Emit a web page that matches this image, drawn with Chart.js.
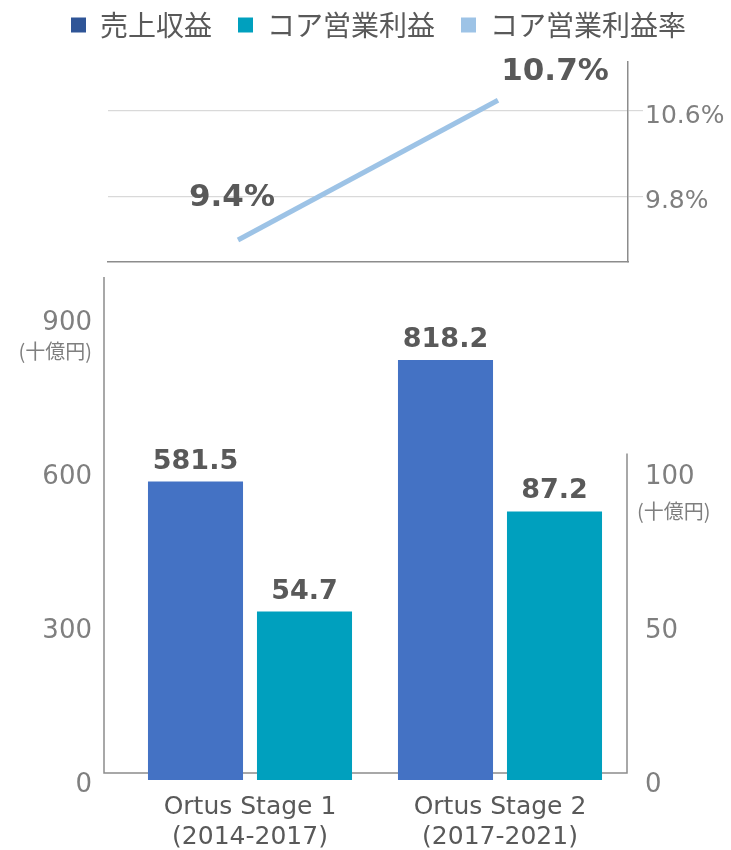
<!DOCTYPE html>
<html>
<head>
<meta charset="utf-8">
<script src="https://cdn.jsdelivr.net/npm/chart.js@4.4.1/dist/chart.umd.min.js"></script>
<style>
  html, body { margin: 0; padding: 0; background: #ffffff; }
  #wrap { position: relative; width: 731px; height: 850px; overflow: hidden; }
  #top { position: absolute; left: 0; top: 0; }
  #bottom { position: absolute; left: 0; top: 268px; }
</style>
</head>
<body>
<div id="wrap">
  <canvas id="top" width="731" height="268"></canvas>
  <canvas id="bottom" width="731" height="582"></canvas>
</div>
<script>
// ---- data ----
const categories = [['Ortus Stage 1', '(2014-2017)'], ['Ortus Stage 2', '(2017-2021)']];
const revenue = [581.5, 818.2];          // 売上収益 (十億円)
const coreProfit = [54.7, 87.2];         // コア営業利益 (十億円)
const coreMargin = [9.4, 10.7];          // コア営業利益率 (%)
const revenueTicks = [0, 300, 600, 900];
const profitTicks = [0, 50, 100];
const marginTicks = [9.8, 10.6];
const seriesNames = ['売上収益', 'コア営業利益', 'コア営業利益率'];
const unitLabel = '(十億円)';

// ---- styles ----
const colRevenue = '#4472C4';
const colRevenueLegend = '#2F5597';
const colProfit = '#00A0BE';
const colMargin = '#9DC3E6';
const axisGrey = '#8C8C8C';
const tickGrey = '#7F7F7F';
const labelGrey = '#595959';
const latin = '"DejaVu Sans", Verdana, sans-serif';
const cjk = '"Noto Sans CJK JP", "DejaVu Sans", sans-serif';

Chart.defaults.font.family = latin;
Chart.defaults.color = tickGrey;

// ---- top chart: margin line ----
const marginLabelPlugin = {
  id: 'marginLabels',
  afterDatasetsDraw(chart, args, opts) {
    const ctx = chart.ctx;
    const meta = chart.getDatasetMeta(0);
    ctx.save();
    ctx.font = 'bold 31px ' + latin;
    ctx.fillStyle = labelGrey;
    ctx.textAlign = 'center';
    ctx.textBaseline = 'middle';
    meta.data.forEach((pt, i) => {
      const off = opts.offsets[i];
      ctx.fillText(coreMargin[i].toFixed(1) + '%', pt.x + off[0], pt.y + off[1]);
    });
    ctx.restore();
  }
};

const topChart = new Chart(document.getElementById('top'), {
  type: 'line',
  data: {
    labels: categories,
    datasets: [{
      label: seriesNames[2],
      data: coreMargin,
      borderColor: colMargin,
      backgroundColor: colMargin,
      borderWidth: 5,
      borderCapStyle: 'butt',
      pointRadius: 0,
      tension: 0,
      yAxisID: 'yR'
    }]
  },
  options: {
    responsive: false,
    animation: false,
    devicePixelRatio: 1,
    layout: { padding: { left: 26, right: 0, top: -15, bottom: 6 } },
    plugins: {
      tooltip: { enabled: false },
      marginLabels: { offsets: [[-6, -42], [57, -28]] },
      legend: {
        position: 'top',
        align: 'center',
        labels: {
          font: { family: cjk, size: 28 },
          color: labelGrey,
          boxWidth: 15,
          boxHeight: 15,
          padding: 26,
          generateLabels() {
            const cols = [colRevenueLegend, colProfit, colMargin];
            return seriesNames.map((n, i) => ({
              text: n, fillStyle: cols[i], strokeStyle: cols[i], lineWidth: 0,
              hidden: false, datasetIndex: 0, fontColor: labelGrey
            }));
          }
        }
      }
    },
    scales: {
      x: {
        offset: true,
        grid: { display: false, drawTicks: false },
        ticks: { display: false },
        border: { display: true, color: axisGrey, width: 1.5 },
        afterFit(s) { s.height = 0; s.paddingLeft = 0; s.paddingRight = 0; }
      },
      xTop: {
        position: 'top',
        type: 'category',
        grid: { display: false, drawTicks: false },
        ticks: { display: false },
        border: { display: false },
        afterFit(s) { s.height = 13; s.paddingLeft = 0; s.paddingRight = 0; }
      },
      yL: {
        position: 'left',
        min: 0, max: 1,
        grid: { display: false, drawTicks: false },
        ticks: { display: false },
        border: { display: false },
        afterFit(s) { s.width = 82; s.paddingTop = 0; s.paddingBottom = 0; }
      },
      yR: {
        position: 'right',
        min: 9.195,
        max: 11.056,
        afterBuildTicks(s) { s.ticks = marginTicks.map(v => ({ value: v })); },
        ticks: {
          font: { size: 25 },
          color: tickGrey,
          padding: 2,
          labelOffset: 5,
          callback: v => Number(v).toFixed(1) + '%'
        },
        grid: { color: '#D9D9D9', lineWidth: 1.2, drawTicks: true, tickLength: 15, tickColor: '#D9D9D9' },
        border: { display: true, color: axisGrey, width: 1.5 },
        afterFit(s) { s.width = 103; s.paddingTop = 0; s.paddingBottom = 0; }
      }
    }
  },
  plugins: [marginLabelPlugin]
});

// ---- bottom chart: bars ----
const barPlugin = {
  id: 'barExtras',
  beforeDatasetsDraw(chart) {
    const ctx = chart.ctx;
    const a = chart.chartArea;
    const yL = chart.scales.yL, yR = chart.scales.yR;
    const base = yL.getPixelForValue(0) - 7;
    const leftX = a.left - 21;
    const rightX = a.right + 2;
    ctx.save();
    ctx.strokeStyle = axisGrey;
    ctx.lineWidth = 1.5;
    ctx.beginPath();
    ctx.moveTo(leftX, a.top);
    ctx.lineTo(leftX, base);
    ctx.lineTo(rightX, base);
    ctx.lineTo(rightX, yR.getPixelForValue(106));
    ctx.stroke();
    // units
    ctx.font = '20px ' + cjk;
    ctx.fillStyle = tickGrey;
    ctx.textBaseline = 'middle';
    ctx.textAlign = 'right';
    ctx.fillText(unitLabel, a.left - 33, yL.getPixelForValue(revenueTicks[revenueTicks.length - 1]) + 33);
    ctx.textAlign = 'left';
    ctx.fillText(unitLabel, a.right + 12, yR.getPixelForValue(profitTicks[profitTicks.length - 1]) + 39);
    ctx.restore();
  },
  afterDatasetsDraw(chart) {
    const ctx = chart.ctx;
    ctx.save();
    ctx.font = 'bold 27px ' + latin;
    ctx.fillStyle = labelGrey;
    ctx.textAlign = 'center';
    ctx.textBaseline = 'middle';
    chart.data.datasets.forEach((ds, di) => {
      chart.getDatasetMeta(di).data.forEach((bar, i) => {
        ctx.fillText(ds.data[i].toFixed(1), bar.x, bar.y - 20);
      });
    });
    ctx.restore();
  }
};

const revenueMax = 980;
const bottomChart = new Chart(document.getElementById('bottom'), {
  type: 'bar',
  data: {
    labels: categories,
    datasets: [
      { label: seriesNames[0], data: revenue, backgroundColor: colRevenue, yAxisID: 'yL',
        categoryPercentage: 0.872, barPercentage: 0.872 },
      { label: seriesNames[1], data: coreProfit, backgroundColor: colProfit, yAxisID: 'yR',
        categoryPercentage: 0.872, barPercentage: 0.872 }
    ]
  },
  options: {
    responsive: false,
    animation: false,
    devicePixelRatio: 1,
    layout: { padding: { left: 0, right: 0, top: 9, bottom: 0 } },
    plugins: { legend: { display: false }, tooltip: { enabled: false } },
    scales: {
      x: {
        offset: true,
        grid: { display: false, drawTicks: false },
        border: { display: false },
        ticks: { font: { size: 25, lineHeight: 1.2 }, color: labelGrey, padding: 12, maxRotation: 0 },
        afterFit(s) { s.height = 70; s.paddingLeft = 0; s.paddingRight = 0; }
      },
      yL: {
        position: 'left',
        min: 0, max: revenueMax,
        afterBuildTicks(s) { s.ticks = revenueTicks.map(v => ({ value: v })); },
        grid: { display: false, drawTicks: false },
        border: { display: false },
        ticks: { font: { size: 26 }, color: tickGrey, padding: 33, labelOffset: 5 },
        afterFit(s) { s.width = 125; s.paddingTop = 0; s.paddingBottom = 0; }
      },
      yR: {
        position: 'right',
        min: 0, max: revenueMax / 6,
        afterBuildTicks(s) { s.ticks = profitTicks.map(v => ({ value: v })); },
        grid: { display: false, drawTicks: false },
        border: { display: false },
        ticks: { font: { size: 26 }, color: tickGrey, padding: 20, labelOffset: 5 },
        afterFit(s) { s.width = 106; s.paddingTop = 0; s.paddingBottom = 0; }
      }
    }
  },
  plugins: [barPlugin]
});
</script>
</body>
</html>
